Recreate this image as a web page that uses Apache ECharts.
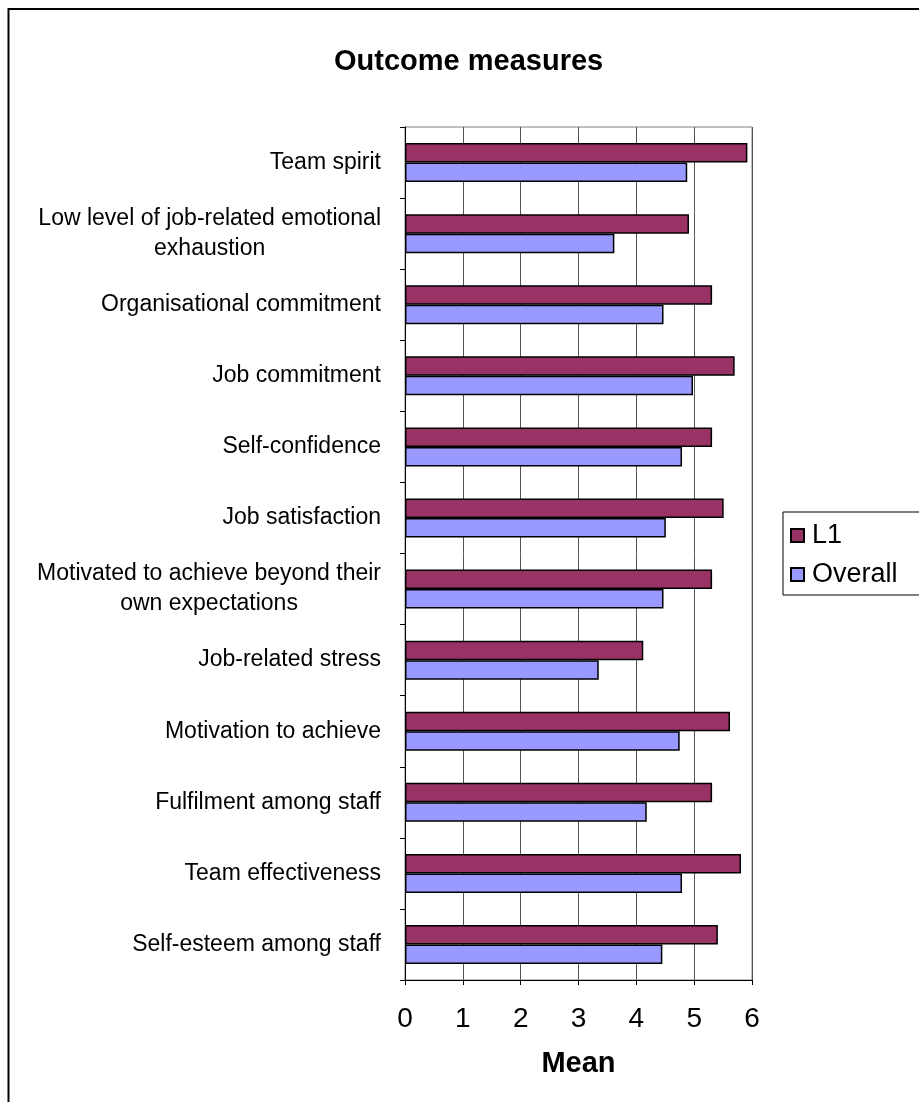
<!DOCTYPE html>
<html>
<head>
<meta charset="utf-8">
<title>Outcome measures</title>
<script src="https://cdn.jsdelivr.net/npm/echarts@6/dist/echarts.min.js"></script>
<style>
  html, body { margin: 0; padding: 0; background: #fff; }
  #chart { width: 919px; height: 1102px; }
</style>
</head>
<body>
<div id="chart"></div>
<script>
// Outcome measures, listed top to bottom
const categories = [
  'Team spirit',
  'Low level of job-related emotional\nexhaustion',
  'Organisational commitment',
  'Job commitment',
  'Self-confidence',
  'Job satisfaction',
  'Motivated to achieve beyond their\nown expectations',
  'Job-related stress',
  'Motivation to achieve',
  'Fulfilment among staff',
  'Team effectiveness',
  'Self-esteem among staff'
];

// Mean scores
const l1Values      = [5.92, 4.91, 5.31, 5.70, 5.31, 5.51, 5.31, 4.12, 5.62, 5.31, 5.81, 5.41];
const overallValues = [4.88, 3.62, 4.47, 4.98, 4.79, 4.51, 4.47, 3.35, 4.75, 4.18, 4.79, 4.45];

const xTicks = [0, 1, 2, 3, 4, 5, 6];

const FONT = "'Liberation Sans', Arial, Helvetica, sans-serif";

const chart = echarts.init(document.getElementById('chart'), null, { renderer: 'canvas' });

chart.setOption({
  backgroundColor: '#ffffff',
  animation: false,
  title: {
    text: 'Outcome measures',
    left: 329,
    top: 42,
    textStyle: { fontFamily: FONT, fontSize: 29, fontWeight: 'bold', color: '#000' }
  },
  legend: {
    orient: 'vertical',
    left: 783,
    top: 512,
    padding: [8, 40, 5, 7],
    itemGap: 8,
    itemWidth: 13,
    itemHeight: 13,
    icon: 'rect',
    borderColor: '#000',
    borderWidth: 1,
    textStyle: { fontFamily: FONT, fontSize: 27, color: '#000', lineHeight: 31, padding: [0, 0, 0, 3] },
    data: ['L1', 'Overall']
  },
  graphic: [{
    type: 'rect',
    silent: true,
    shape: { x: 8.5, y: 9, width: 1000, height: 1200 },
    style: { fill: 'none', stroke: '#000', lineWidth: 2 }
  }],
  grid: {
    left: 405,
    right: 167,
    top: 127,
    bottom: 122,
    show: true,
    borderColor: '#808080',
    borderWidth: 1,
    containLabel: false
  },
  xAxis: {
    type: 'value',
    min: xTicks[0],
    max: xTicks[xTicks.length - 1],
    interval: 1,
    name: 'Mean',
    nameLocation: 'middle',
    nameGap: 69,
    nameTextStyle: { fontFamily: FONT, fontSize: 29, fontWeight: 'bold', color: '#000' },
    axisLine: { show: true, lineStyle: { color: '#000', width: 1 } },
    axisTick: { show: true, inside: false, length: 5, lineStyle: { color: '#000' } },
    axisLabel: { fontFamily: FONT, fontSize: 28, color: '#000', margin: 25 },
    splitLine: { show: true, lineStyle: { color: '#555', width: 1 } }
  },
  yAxis: {
    type: 'category',
    inverse: true,
    data: categories,
    axisLine: { show: true, lineStyle: { color: '#000', width: 1 } },
    axisTick: { show: true, inside: false, length: 5, lineStyle: { color: '#000' } },
    axisLabel: {
      fontFamily: FONT,
      fontSize: 23,
      color: '#000',
      margin: 24,
      lineHeight: 30,
      formatter: function (value) {
        return value.split('\n').map(function (line) { return '{c|' + line + '}'; }).join('\n');
      },
      rich: {
        c: { fontFamily: FONT, fontSize: 23, color: '#000', lineHeight: 30, align: 'center' }
      }
    },
    splitLine: { show: false }
  },
  series: [
    {
      name: 'L1',
      type: 'bar',
      data: l1Values,
      barWidth: 19.5,
      barGap: '0%',
      itemStyle: { color: '#993366', borderColor: '#000', borderWidth: 1.5 }
    },
    {
      name: 'Overall',
      type: 'bar',
      data: overallValues,
      barWidth: 19.5,
      barGap: '0%',
      itemStyle: { color: '#9999FF', borderColor: '#000', borderWidth: 1.5 }
    }
  ]
});
</script>
</body>
</html>
